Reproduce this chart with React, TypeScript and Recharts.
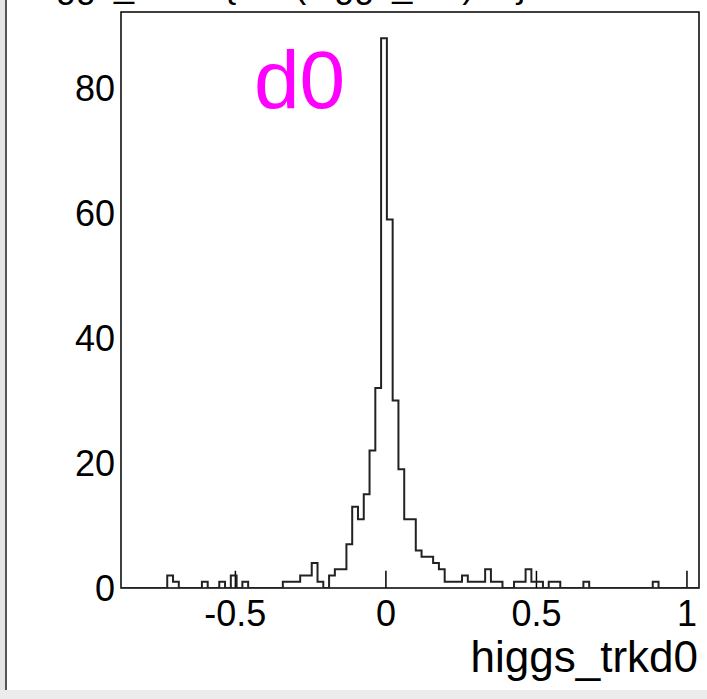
import { LineChart, Line, XAxis, YAxis, ReferenceArea, ReferenceLine } from 'recharts';

// histogram binning of higgs_trkd0 (100 bins)
const X_MIN = -0.88;
const X_MAX = 1.04;
const BIN_WIDTH = 0.0192;
const Y_MAX = 92.2;

const binCounts = [
  0, 0, 0, 0, 0, 0, 0, 0, 2, 1,
  0, 0, 0, 0, 1, 0, 0, 1, 0, 2,
  0, 1, 0, 0, 0, 0, 0, 0, 1, 1,
  1, 2, 2, 4, 1, 0, 2, 3, 3, 7,
  13, 11, 15, 22, 32, 88, 59, 30, 19, 11,
  11, 6, 5, 5, 4, 3, 1, 1, 1, 2,
  1, 1, 1, 3, 1, 1, 0, 0, 1, 1,
  3, 1, 1, 0, 1, 1, 0, 0, 0, 0,
  1, 0, 0, 0, 0, 0, 0, 0, 0, 0,
  0, 0, 1, 0, 0, 0, 0, 0, 0, 0,
];

const xTicks = [-0.5, 0, 0.5, 1];
const yTicks = [0, 20, 40, 60, 80];
const TICK_LEN = 2.75;

const font = '"Liberation Sans", Arial, sans-serif';

const data = [
  ...binCounts.map((c, i) => ({ x: X_MIN + i * BIN_WIDTH, y: c })),
  { x: X_MAX, y: binCounts[binCounts.length - 1] },
];

export default function App() {
  return (
    <div
      style={{
        position: 'absolute',
        left: 0,
        top: 0,
        width: 707,
        height: 699,
        background: '#fff',
        overflow: 'hidden',
        fontFamily: font,
      }}
    >
      {/* title, mostly cut off at the top of the pad */}
      <div
        style={{
          position: 'absolute',
          left: 28,
          top: -33,
          fontSize: 36,
          lineHeight: '36px',
          whiteSpace: 'nowrap',
          color: '#000',
        }}
      >
        higgs_trkd0 {'{abs(higgs_eta)<1}'}
      </div>
      <LineChart
        width={707}
        height={699}
        data={data}
        margin={{ top: 12, right: 8, bottom: 0, left: 0 }}
      >
        <XAxis
          dataKey="x"
          type="number"
          domain={[X_MIN, X_MAX]}
          ticks={xTicks}
          tickFormatter={(v) => String(v)}
          axisLine={false}
          tickLine={false}
          tickMargin={6}
          height={111}
          tick={{ fontSize: 36, fill: '#000', fontFamily: font }}
          allowDataOverflow
        />
        <YAxis
          type="number"
          domain={[0, Y_MAX]}
          ticks={yTicks}
          axisLine={false}
          tickLine={false}
          tickSize={6}
          tickMargin={0}
          width={121}
          tick={{ fontSize: 36, fill: '#000', fontFamily: font }}
          allowDataOverflow
        />
        <ReferenceArea
          x1={X_MIN}
          x2={X_MAX}
          y1={0}
          y2={Y_MAX}
          fill="none"
          stroke="#000"
          strokeWidth={1.5}
          ifOverflow="visible"
        />
        {xTicks.map((t) => (
          <ReferenceLine
            key={t}
            segment={[
              { x: t, y: 0 },
              { x: t, y: TICK_LEN },
            ]}
            stroke="#000"
            strokeWidth={1.5}
          />
        ))}
        <Line
          type="stepAfter"
          dataKey="y"
          stroke="#222"
          strokeWidth={2}
          dot={false}
          activeDot={false}
          isAnimationActive={false}
        />
      </LineChart>
      <div
        style={{
          position: 'absolute',
          left: 254,
          top: 35,
          fontSize: 82,
          lineHeight: '90px',
          color: '#ff00ff',
        }}
      >
        d0
      </div>
      <div
        style={{
          position: 'absolute',
          right: 9,
          top: 630,
          fontSize: 44,
          lineHeight: '54px',
          color: '#000',
        }}
      >
        higgs_trkd0
      </div>
      {/* pad border */}
      <div style={{ position: 'absolute', left: 0, top: 0, width: 5, height: 699, background: '#e4e4e4' }} />
      <div style={{ position: 'absolute', left: 5, top: 0, width: 2, height: 699, background: '#555' }} />
      <div style={{ position: 'absolute', left: 0, top: 690, width: 707, height: 9, background: '#ececec' }} />
    </div>
  );
}
